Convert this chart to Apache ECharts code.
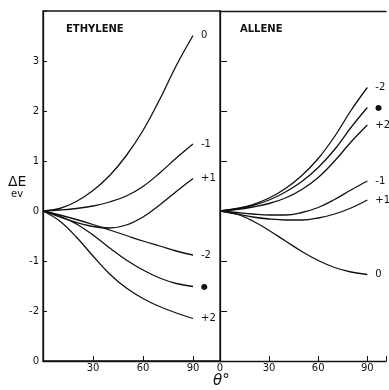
<!DOCTYPE html>
<html>
<head>
<meta charset="utf-8">
<script src="https://cdn.jsdelivr.net/npm/echarts@6/dist/echarts.min.js"></script>
<style>
  html, body { margin: 0; background: #fff; }
  #chart { width: 389px; height: 390px; }
</style>
</head>
<body>
<div id="chart"></div>
<script>
// rotation angle theta (deg) at which each curve was read
const angles = [0, 10, 20, 30, 40, 50, 60, 70, 80, 90]

// y tick values and what the left axis prints for them
const yTicks = [-3, -2, -1, 0, 1, 2, 3, 4]
const yTickLabels = ['0', '-2', '-1', '0', '1', '2', '3', '']
const xTickLabels = ['0', '30', '60', '90']

// ETHYLENE, delta E (ev)
const ethNames = ['0', '-1', '+1', '-2', '●', '+2']
const eth0 = [0, 0.05, 0.19, 0.41, 0.71, 1.11, 1.61, 2.23, 2.91, 3.51]
const ethM1 = [0, 0.02, 0.05, 0.10, 0.18, 0.30, 0.49, 0.76, 1.06, 1.34]
const ethP1 = [0, -0.12, -0.23, -0.31, -0.34, -0.28, -0.12, 0.12, 0.39, 0.65]
const ethM2 = [0, -0.08, -0.17, -0.27, -0.38, -0.49, -0.60, -0.70, -0.80, -0.88]
const ethDot = [0, -0.10, -0.26, -0.48, -0.74, -0.98, -1.18, -1.34, -1.45, -1.51]
const ethP2 = [0, -0.20, -0.52, -0.90, -1.26, -1.54, -1.75, -1.91, -2.04, -2.15]

// ALLENE, delta E (ev)
const allNames = ['-2', '●', '+2', '-1', '+1', '0']
const allM2 = [0, 0.05, 0.13, 0.26, 0.45, 0.71, 1.05, 1.49, 2.01, 2.47]
const allDot = [0, 0.04, 0.11, 0.22, 0.38, 0.59, 0.87, 1.23, 1.67, 2.07]
const allP2 = [0, 0.03, 0.08, 0.15, 0.26, 0.43, 0.67, 1.00, 1.38, 1.72]
const allM1 = [0, -0.03, -0.06, -0.08, -0.08, -0.03, 0.07, 0.23, 0.42, 0.60]
const allP1 = [0, -0.06, -0.12, -0.16, -0.18, -0.18, -0.14, -0.06, 0.06, 0.22]
const all0 = [0, -0.06, -0.20, -0.39, -0.60, -0.81, -0.99, -1.13, -1.22, -1.27]

const ethSeries = [eth0, ethM1, ethP1, ethM2, ethDot, ethP2]
const allSeries = [allM2, allDot, allP2, allM1, allP1, all0]

const font = 'DejaVu Sans'
const ink = '#111'

const chart = echarts.init(document.getElementById('chart'), null, { renderer: 'canvas' })

function makeLine(name, values, idx) {
  return {
    name,
    type: 'line',
    xAxisIndex: idx,
    yAxisIndex: idx,
    data: angles.map((a, i) => [a, values[i]]),
    smooth: 0.4,
    symbol: 'none',
    lineStyle: { color: ink, width: 1.3 },
    endLabel: {
      show: true,
      formatter: name,
      distance: 8,
      color: ink,
      fontFamily: font,
      fontSize: name === '●' ? 8 : 10
    },
    emphasis: { disabled: true },
    silent: true
  }
}

const xAxisBase = {
  type: 'value',
  min: 0,
  interval: 30,
  axisLine: { onZero: false, lineStyle: { color: ink, width: 1.3 } },
  axisTick: { inside: true, length: 5, lineStyle: { color: ink } },
  splitLine: { show: false },
  axisLabel: { color: ink, fontFamily: font, fontSize: 10, margin: 2 }
}

const yAxisBase = {
  type: 'value',
  min: -3,
  max: 4,
  interval: 1,
  axisLine: { show: true, onZero: false, lineStyle: { color: ink, width: 1.3 } },
  splitLine: { show: false }
}

const option = {
  backgroundColor: '#fff',
  animation: false,
  grid: [
    { left: 43, top: 11, width: 177, height: 350, show: true, borderColor: ink, borderWidth: 1.3 },
    { left: 220, top: 11, width: 169, height: 350 }
  ],
  xAxis: [
    {
      ...xAxisBase,
      gridIndex: 0,
      max: 106.2,
      axisLabel: {
        ...xAxisBase.axisLabel,
        formatter: v => (v === 0 ? '' : xTickLabels[v / 30])
      }
    },
    {
      ...xAxisBase,
      gridIndex: 1,
      max: 101.4,
      axisLabel: {
        ...xAxisBase.axisLabel,
        formatter: v => (xTickLabels[v / 30] || '')
      }
    },
    {
      // top frame line of the allene panel
      type: 'value',
      gridIndex: 1,
      position: 'top',
      min: 0,
      max: 101.4,
      axisLine: { onZero: false, lineStyle: { color: ink, width: 1.3 } },
      axisTick: { show: false },
      axisLabel: { show: false },
      splitLine: { show: false }
    }
  ],
  yAxis: [
    {
      ...yAxisBase,
      gridIndex: 0,
      axisTick: { inside: true, length: 4, lineStyle: { color: ink } },
      axisLabel: {
        color: ink,
        fontFamily: font,
        fontSize: 10,
        margin: 4,
        formatter: v => yTickLabels[yTicks.indexOf(v)]
      }
    },
    {
      ...yAxisBase,
      gridIndex: 1,
      axisTick: { inside: true, length: 7, lineStyle: { color: ink } },
      axisLabel: { show: false }
    }
  ],
  series: [
    ...ethSeries.map((s, i) => makeLine(ethNames[i], s, 0)),
    ...allSeries.map((s, i) => makeLine(allNames[i], s, 1))
  ],
  graphic: [
    { type: 'text', left: 66, top: 24, style: { text: 'ETHYLENE', font: 'bold 10px ' + font, fill: ink } },
    { type: 'text', left: 240, top: 24, style: { text: 'ALLENE', font: 'bold 10px ' + font, fill: ink } },
    { type: 'text', left: 8, top: 175, style: { text: 'ΔE', font: '14px ' + font, fill: ink } },
    { type: 'text', left: 11, top: 189, style: { text: 'ev', font: '10px ' + font, fill: ink } },
    { type: 'text', left: 213, top: 374, style: { text: 'θ°', font: 'italic 15px ' + font, fill: ink } }
  ]
}

chart.setOption(option)
</script>
</body>
</html>
